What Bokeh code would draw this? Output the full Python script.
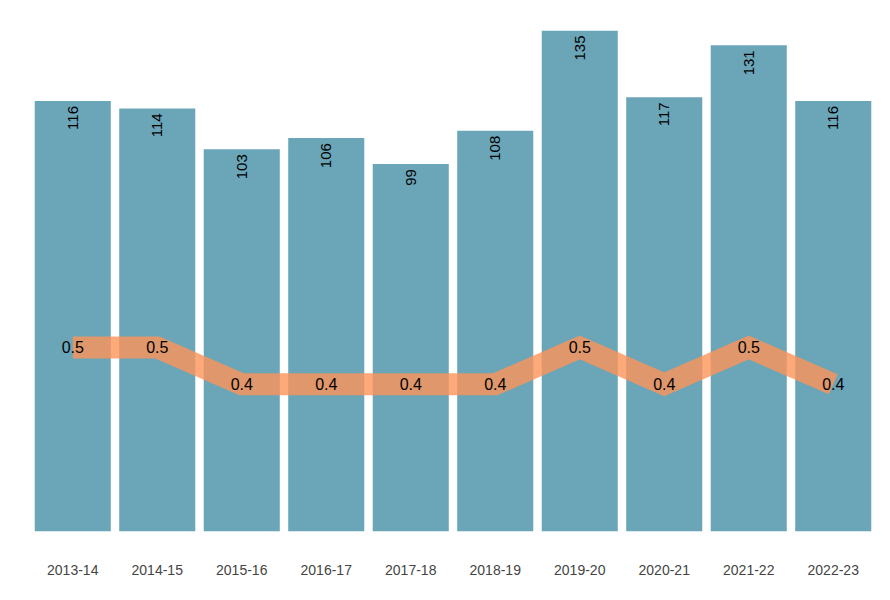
from bokeh.plotting import figure
from bokeh.models import ColumnDataSource, Range1d
from bokeh.core.properties import value
from bokeh.embed import file_html
from bokeh.resources import INLINE
import math

seasons = ["2013-14", "2014-15", "2015-16", "2016-17", "2017-18",
           "2018-19", "2019-20", "2020-21", "2021-22", "2022-23"]
bar_values = [116, 114, 103, 106, 99, 108, 135, 117, 131, 116]
line_values = [0.5, 0.5, 0.4, 0.4, 0.4, 0.4, 0.5, 0.4, 0.5, 0.4]

src = ColumnDataSource(dict(
    x=seasons,
    bar=bar_values,
    bar_lbl=[str(v) for v in bar_values],
    line=line_values,
    line_lbl=[f"{v:.1f}" for v in line_values],
))

p = figure(width=890, height=600, x_range=seasons, y_range=Range1d(0, 135),
           output_backend="svg", toolbar_location=None,
           min_border_left=30, min_border_right=15, min_border_top=30,
           min_border_bottom=69)
p.extra_y_ranges = {"sec": Range1d(0, 1.3613)}

p.vbar(x="x", top="bar", width=0.9, source=src, color="#6ba5b8", line_color=None)
p.text(x="x", y="bar", text="bar_lbl", source=src, angle=math.pi / 2,
       text_align="right", text_baseline="middle", y_offset=5,
       text_font=value("Liberation Sans"), text_font_size="15px", text_color="black")

p.line(x="x", y="line", source=src, y_range_name="sec", line_width=22,
       line_color="#fc9358", line_alpha=0.8, line_join="miter", line_cap="butt")
p.text(x="x", y="line", text="line_lbl", source=src, y_range_name="sec",
       text_align="center", text_baseline="middle",
       text_font=value("Liberation Sans"), text_font_size="16px", text_color="black")

p.yaxis.visible = False
p.xgrid.visible = False
p.ygrid.visible = False
p.outline_line_color = None
p.xaxis.axis_line_color = None
p.xaxis.major_tick_line_color = None
p.xaxis.minor_tick_line_color = None
p.xaxis.major_label_standoff = 27
p.xaxis.major_label_text_font = "Liberation Sans"
p.xaxis.major_label_text_font_size = "14px"
p.xaxis.major_label_text_color = "#444444"
p.xaxis.major_label_text_font_style = "normal"

open("out.html", "w").write(file_html(p, INLINE))
